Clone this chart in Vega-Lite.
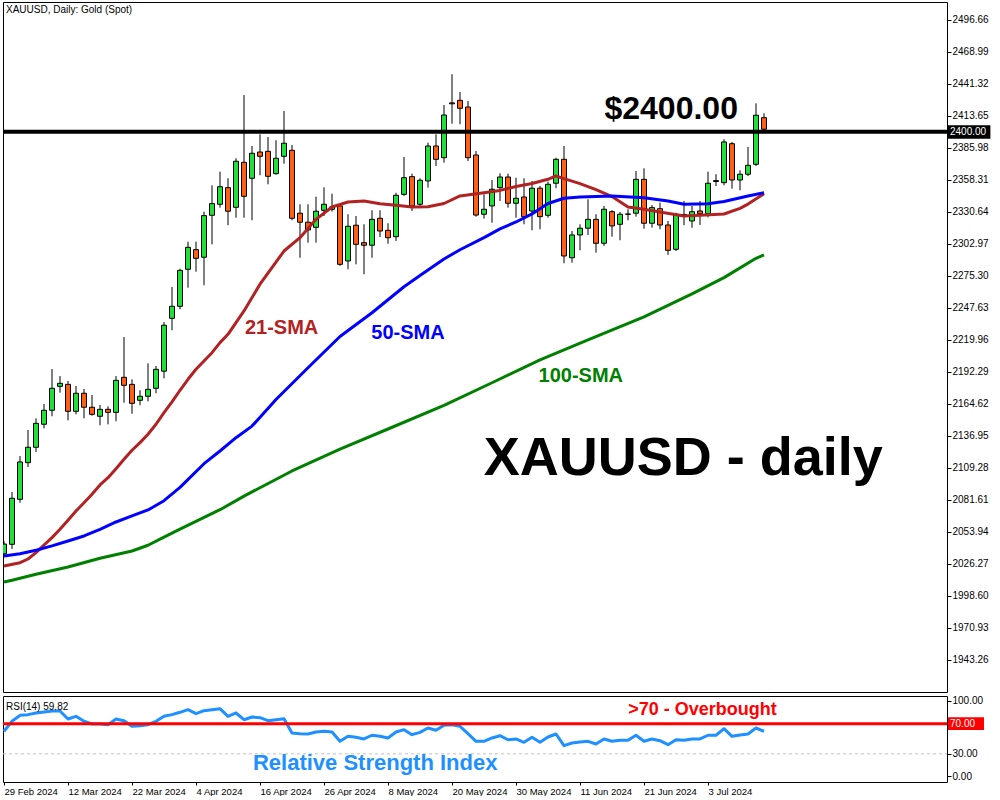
{
  "$schema": "https://vega.github.io/schema/vega-lite/v6.json",
  "background": "white",
  "padding": {"left": 2, "top": 1, "right": 0, "bottom": 0},
  "spacing": 2,
  "config": {
    "view": {"stroke": "black", "strokeWidth": 1},
    "axis": {"labelFont": "Liberation Sans", "labelFontSize": 10, "labelColor": "black", "tickColor": "black", "domain": false, "grid": false, "labelOverlap": false, "labelFlush": false, "labelSeparation": 0, "labelBound": false},
    "scale": {"continuousPadding": 0},
    "text": {"font": "Liberation Sans"}
  },
  "datasets": {
    "candles": [
      {"i":0,"o":2035,"h":2046,"l":2032,"c":2043.5,"r":59.9},
      {"i":1,"o":2043.3,"h":2088.5,"l":2039.2,"c":2083.1,"r":73.1},
      {"i":2,"o":2082.2,"h":2119.6,"l":2079.3,"c":2114.5,"r":81},
      {"i":3,"o":2113.9,"h":2142.1,"l":2110.1,"c":2127.2,"r":81.9},
      {"i":4,"o":2127.2,"h":2152.2,"l":2123.1,"c":2147.9,"r":84.1},
      {"i":5,"o":2147.1,"h":2164.6,"l":2143.6,"c":2159.2,"r":85.4},
      {"i":6,"o":2159.2,"h":2194.9,"l":2154.0,"c":2178.2,"r":86.8},
      {"i":7,"o":2179.9,"h":2188.8,"l":2174.4,"c":2182.5,"r":86.8},
      {"i":8,"o":2181.6,"h":2184.5,"l":2150.5,"c":2158.3,"r":76.2},
      {"i":9,"o":2158.3,"h":2180.2,"l":2155.7,"c":2173.9,"r":79.7},
      {"i":10,"o":2173.9,"h":2177.6,"l":2152.2,"c":2161.8,"r":73.1},
      {"i":11,"o":2161.8,"h":2172.4,"l":2154.5,"c":2155.7,"r":69.5},
      {"i":12,"o":2154.0,"h":2163.8,"l":2146.2,"c":2160.0,"r":69.5},
      {"i":13,"o":2160.0,"h":2162.6,"l":2147.0,"c":2157.4,"r":68.6},
      {"i":14,"o":2157.4,"h":2188.8,"l":2149.7,"c":2185.1,"r":76.2},
      {"i":15,"o":2187.7,"h":2222.6,"l":2165.7,"c":2180.8,"r":73.9},
      {"i":16,"o":2181.6,"h":2185.9,"l":2156.2,"c":2165.2,"r":66.5},
      {"i":17,"o":2167.8,"h":2176.5,"l":2163.5,"c":2171.3,"r":67.3},
      {"i":18,"o":2171.3,"h":2199.8,"l":2166.9,"c":2177.3,"r":68.6},
      {"i":19,"o":2178.2,"h":2197.5,"l":2173.9,"c":2194.6,"r":73.1},
      {"i":20,"o":2193.0,"h":2235.5,"l":2186.8,"c":2232.7,"r":79.7},
      {"i":21,"o":2238.7,"h":2265.8,"l":2228.4,"c":2249.1,"r":81.9},
      {"i":22,"o":2249.1,"h":2281.6,"l":2246.5,"c":2280.2,"r":85},
      {"i":23,"o":2281.1,"h":2305.0,"l":2265.2,"c":2300.1,"r":88.5},
      {"i":24,"o":2298.1,"h":2305.0,"l":2279.0,"c":2290.6,"r":83.2},
      {"i":25,"o":2291.5,"h":2330.9,"l":2267.3,"c":2327.5,"r":87.2},
      {"i":26,"o":2327.8,"h":2353.7,"l":2302.7,"c":2337.9,"r":88.5},
      {"i":27,"o":2337.3,"h":2365.5,"l":2334.4,"c":2352.5,"r":89.8},
      {"i":28,"o":2351.7,"h":2359.8,"l":2319.2,"c":2331.3,"r":79.7},
      {"i":29,"o":2334.7,"h":2377.1,"l":2325.7,"c":2374.5,"r":84.1},
      {"i":30,"o":2373.6,"h":2431.8,"l":2325.7,"c":2344.2,"r":75.2},
      {"i":31,"o":2359.8,"h":2387.7,"l":2323.5,"c":2381.4,"r":78.8},
      {"i":32,"o":2382.5,"h":2397.8,"l":2362.4,"c":2378.8,"r":77.9},
      {"i":33,"o":2383.1,"h":2395.5,"l":2354.6,"c":2361.5,"r":73.9},
      {"i":34,"o":2363.8,"h":2392.7,"l":2362.9,"c":2377.1,"r":75.2},
      {"i":35,"o":2378.8,"h":2418.0,"l":2372.4,"c":2390.1,"r":76.6},
      {"i":36,"o":2384.0,"h":2388.6,"l":2323.5,"c":2325.2,"r":57.6},
      {"i":37,"o":2329.6,"h":2337.3,"l":2291.1,"c":2321.8,"r":56.7},
      {"i":38,"o":2321.8,"h":2337.3,"l":2304.1,"c":2315.1,"r":56.3},
      {"i":39,"o":2317.4,"h":2343.9,"l":2304.1,"c":2331.3,"r":58.9},
      {"i":40,"o":2332.1,"h":2352.0,"l":2327.2,"c":2337.3,"r":59.9},
      {"i":41,"o":2333.0,"h":2346.5,"l":2331.0,"c":2335.0,"r":58.9},
      {"i":42,"o":2335.9,"h":2336.5,"l":2284.0,"c":2285.4,"r":46.6},
      {"i":43,"o":2288.3,"h":2328.7,"l":2281.1,"c":2318.3,"r":53.2},
      {"i":44,"o":2319.2,"h":2327.2,"l":2285.4,"c":2302.7,"r":51.9},
      {"i":45,"o":2304.1,"h":2320.0,"l":2276.8,"c":2301.9,"r":49.7},
      {"i":46,"o":2301.9,"h":2332.1,"l":2291.1,"c":2324.3,"r":54.6},
      {"i":47,"o":2325.2,"h":2332.1,"l":2309.0,"c":2314.2,"r":53.2},
      {"i":48,"o":2314.8,"h":2320.9,"l":2303.2,"c":2308.4,"r":51},
      {"i":49,"o":2309.3,"h":2347.3,"l":2305.6,"c":2345.1,"r":58.9},
      {"i":50,"o":2345.9,"h":2378.2,"l":2344.5,"c":2360.3,"r":62},
      {"i":51,"o":2361.2,"h":2363.8,"l":2331.5,"c":2335.9,"r":55.4},
      {"i":52,"o":2337.3,"h":2359.8,"l":2334.0,"c":2358.1,"r":58.5},
      {"i":53,"o":2357.5,"h":2390.6,"l":2351.7,"c":2387.7,"r":64.2},
      {"i":54,"o":2387.7,"h":2397.8,"l":2370.4,"c":2376.2,"r":61.2},
      {"i":55,"o":2377.6,"h":2423.2,"l":2373.3,"c":2414.5,"r":67.8},
      {"i":56,"o":2425.0,"h":2449.7,"l":2407.0,"c":2424.2,"r":68.6},
      {"i":57,"o":2427.2,"h":2434.4,"l":2406.5,"c":2420.3,"r":66.5},
      {"i":58,"o":2421.4,"h":2426.6,"l":2374.7,"c":2377.6,"r":56.7},
      {"i":59,"o":2379.9,"h":2383.4,"l":2326.6,"c":2328.0,"r":46.6},
      {"i":60,"o":2328.7,"h":2345.9,"l":2324.9,"c":2333.0,"r":46.6},
      {"i":61,"o":2335.9,"h":2358.3,"l":2321.4,"c":2350.3,"r":51},
      {"i":62,"o":2351.7,"h":2364.1,"l":2340.2,"c":2360.9,"r":54},
      {"i":63,"o":2360.9,"h":2363.8,"l":2334.4,"c":2338.2,"r":48.7},
      {"i":64,"o":2338.2,"h":2360.3,"l":2325.7,"c":2342.5,"r":49.7},
      {"i":65,"o":2343.6,"h":2359.8,"l":2320.0,"c":2326.6,"r":45.3},
      {"i":66,"o":2331.5,"h":2357.5,"l":2314.8,"c":2351.2,"r":51.9},
      {"i":67,"o":2351.2,"h":2353.1,"l":2315.7,"c":2326.6,"r":45.3},
      {"i":68,"o":2327.8,"h":2356.9,"l":2325.7,"c":2354.6,"r":52.3},
      {"i":69,"o":2355.5,"h":2377.6,"l":2351.2,"c":2376.2,"r":56.3},
      {"i":70,"o":2376.2,"h":2387.7,"l":2286.3,"c":2292.6,"r":40.8},
      {"i":71,"o":2291.1,"h":2314.2,"l":2286.8,"c":2310.8,"r":44.4},
      {"i":72,"o":2310.8,"h":2320.0,"l":2297.5,"c":2316.6,"r":45.7},
      {"i":73,"o":2316.6,"h":2341.6,"l":2310.8,"c":2324.3,"r":46.6},
      {"i":74,"o":2324.3,"h":2328.7,"l":2295.5,"c":2303.6,"r":43},
      {"i":75,"o":2303.6,"h":2335.9,"l":2301.3,"c":2333.0,"r":49.7},
      {"i":76,"o":2330.9,"h":2332.3,"l":2309.3,"c":2318.6,"r":46.6},
      {"i":77,"o":2320.0,"h":2330.6,"l":2306.2,"c":2328.7,"r":47.9},
      {"i":78,"o":2328.7,"h":2333.0,"l":2323.5,"c":2328.9,"r":47.9},
      {"i":79,"o":2329.6,"h":2366.1,"l":2326.6,"c":2358.9,"r":54.6},
      {"i":80,"o":2358.9,"h":2368.4,"l":2316.2,"c":2320.9,"r":46.6},
      {"i":81,"o":2320.9,"h":2336.7,"l":2317.1,"c":2334.4,"r":49.7},
      {"i":82,"o":2333.5,"h":2338.7,"l":2315.7,"c":2319.4,"r":47.4},
      {"i":83,"o":2319.4,"h":2322.9,"l":2293.5,"c":2297.5,"r":42.1},
      {"i":84,"o":2298.4,"h":2330.0,"l":2296.9,"c":2328.7,"r":48.7},
      {"i":85,"o":2328.5,"h":2340.2,"l":2319.2,"c":2327.8,"r":47.9},
      {"i":86,"o":2322.9,"h":2335.9,"l":2317.0,"c":2330.9,"r":49.7},
      {"i":87,"o":2331.5,"h":2340.2,"l":2319.4,"c":2329.2,"r":49.7},
      {"i":88,"o":2329.2,"h":2365.5,"l":2326.0,"c":2355.5,"r":54.6},
      {"i":89,"o":2357.0,"h":2363.3,"l":2353.1,"c":2357.8,"r":54.6},
      {"i":90,"o":2356.0,"h":2393.5,"l":2353.7,"c":2391.2,"r":63.3},
      {"i":91,"o":2389.7,"h":2391.2,"l":2350.8,"c":2358.3,"r":53.2},
      {"i":92,"o":2358.3,"h":2366.7,"l":2349.4,"c":2363.3,"r":55},
      {"i":93,"o":2363.3,"h":2386.9,"l":2361.7,"c":2371.0,"r":56.3},
      {"i":94,"o":2371.9,"h":2424.6,"l":2370.4,"c":2414.3,"r":64.2},
      {"i":95,"o":2412.2,"h":2416.0,"l":2401.3,"c":2402.2,"r":59.9}
    ],
    "sma": [
      {"s":"21","i":0,"v":2024.6},{"s":"21","i":2,"v":2027.4},{"s":"21","i":3,"v":2030.6},{"s":"21","i":4,"v":2036.1},{"s":"21","i":5,"v":2042.7},{"s":"21","i":6,"v":2049.1},{"s":"21","i":7,"v":2056.3},{"s":"21","i":8,"v":2064.1},{"s":"21","i":9,"v":2072.1},{"s":"21","i":10,"v":2079.3},{"s":"21","i":11,"v":2086.6},{"s":"21","i":12,"v":2094.6},{"s":"21","i":13,"v":2100.9},{"s":"21","i":14,"v":2108.7},{"s":"21","i":15,"v":2116.8},{"s":"21","i":16,"v":2124.6},{"s":"21","i":17,"v":2131.2},{"s":"21","i":18,"v":2138.5},{"s":"21","i":19,"v":2147.1},{"s":"21","i":20,"v":2157.1},{"s":"21","i":21,"v":2166.4},{"s":"21","i":22,"v":2176.5},{"s":"21","i":23,"v":2186.0},{"s":"21","i":24,"v":2194.7},{"s":"21","i":25,"v":2201.8},{"s":"21","i":26,"v":2209.0},{"s":"21","i":27,"v":2217.7},{"s":"21","i":28,"v":2224.9},{"s":"21","i":30,"v":2245.1},{"s":"21","i":32,"v":2268.2},{"s":"21","i":35,"v":2296.9},{"s":"21","i":37,"v":2308.4},{"s":"21","i":39,"v":2324.3},{"s":"21","i":41,"v":2335.0},{"s":"21","i":43,"v":2339.3},{"s":"21","i":45,"v":2340.2},{"s":"21","i":47,"v":2337.8},{"s":"21","i":49,"v":2336.4},{"s":"21","i":51,"v":2335.0},{"s":"21","i":53,"v":2335.2},{"s":"21","i":55,"v":2338.0},{"s":"21","i":57,"v":2344.5},{"s":"21","i":60,"v":2347.2},{"s":"21","i":62,"v":2349.3},{"s":"21","i":64,"v":2352.7},{"s":"21","i":66,"v":2355.3},{"s":"21","i":68,"v":2358.9},{"s":"21","i":69,"v":2361.8},{"s":"21","i":70,"v":2359.5},{"s":"21","i":72,"v":2355.2},{"s":"21","i":74,"v":2350.0},{"s":"21","i":76,"v":2344.0},{"s":"21","i":78,"v":2335.0},{"s":"21","i":80,"v":2333.0},{"s":"21","i":82,"v":2330.7},{"s":"21","i":85,"v":2327.2},{"s":"21","i":87,"v":2327.8},{"s":"21","i":90,"v":2328.9},{"s":"21","i":92,"v":2333.8},{"s":"21","i":93,"v":2337.5},{"s":"21","i":95,"v":2346.5},
      {"s":"50","i":0,"v":2033.2},{"s":"50","i":2,"v":2035.2},{"s":"50","i":4,"v":2038.1},{"s":"50","i":6,"v":2041.9},{"s":"50","i":8,"v":2046.2},{"s":"50","i":10,"v":2050.5},{"s":"50","i":12,"v":2056.3},{"s":"50","i":14,"v":2062.6},{"s":"50","i":16,"v":2067.8},{"s":"50","i":18,"v":2073.0},{"s":"50","i":20,"v":2081.0},{"s":"50","i":22,"v":2092.5},{"s":"50","i":25,"v":2113.0},{"s":"50","i":27,"v":2124.0},{"s":"50","i":29,"v":2135.5},{"s":"50","i":31,"v":2145.5},{"s":"50","i":34,"v":2168.5},{"s":"50","i":38,"v":2196.0},{"s":"50","i":42,"v":2223.0},{"s":"50","i":46,"v":2243.5},{"s":"50","i":50,"v":2266.0},{"s":"50","i":52,"v":2275.7},{"s":"50","i":55,"v":2290.0},{"s":"50","i":57,"v":2298.0},{"s":"50","i":60,"v":2308.5},{"s":"50","i":62,"v":2316.0},{"s":"50","i":64,"v":2322.0},{"s":"50","i":66,"v":2329.0},{"s":"50","i":68,"v":2338.0},{"s":"50","i":70,"v":2342.5},{"s":"50","i":72,"v":2343.6},{"s":"50","i":76,"v":2344.5},{"s":"50","i":80,"v":2343.0},{"s":"50","i":83,"v":2340.2},{"s":"50","i":85,"v":2337.3},{"s":"50","i":88,"v":2337.8},{"s":"50","i":90,"v":2339.7},{"s":"50","i":93,"v":2344.5},{"s":"50","i":95,"v":2347.3},
      {"s":"100","i":0,"v":2010.7},{"s":"100","i":1,"v":2012.2},{"s":"100","i":4,"v":2017.4},{"s":"100","i":8,"v":2023.7},{"s":"100","i":12,"v":2031.2},{"s":"100","i":16,"v":2037.5},{"s":"100","i":18,"v":2042.5},{"s":"100","i":20,"v":2049.5},{"s":"100","i":22,"v":2056.5},{"s":"100","i":27,"v":2073.2},{"s":"100","i":30,"v":2085.0},{"s":"100","i":36,"v":2106.7},{"s":"100","i":42,"v":2125.5},{"s":"100","i":48,"v":2143.0},{"s":"100","i":55,"v":2163.5},{"s":"100","i":61,"v":2183.0},{"s":"100","i":67,"v":2202.8},{"s":"100","i":73,"v":2220.0},{"s":"100","i":80,"v":2240.0},{"s":"100","i":86,"v":2259.8},{"s":"100","i":90,"v":2273.9},{"s":"100","i":94,"v":2290.6},{"s":"100","i":95,"v":2293.5}
    ]
  },
  "vconcat": [
    {
      "width": 944,
      "height": 690,
      "encoding": {
        "x": {"field": "i", "type": "quantitative", "scale": {"domain": [-0.125, 117.875], "nice": false, "zero": false, "padding": 0}, "axis": null}
      },
      "layer": [
        {
          "data": {"name": "candles"},
          "mark": {"type": "rule", "color": "black", "strokeWidth": 1, "clip": true},
          "encoding": {
            "y": {"field": "l", "type": "quantitative", "scale": {"domain": [1915.59, 2512.22], "nice": false, "zero": false, "padding": 0},
                  "axis": {"orient": "right", "title": null, "values": [2496.66, 2468.99, 2441.32, 2413.65, 2385.98, 2358.31, 2330.64, 2302.97, 2275.30, 2247.63, 2219.96, 2192.29, 2164.62, 2136.95, 2109.28, 2081.61, 2053.94, 2026.27, 1998.60, 1970.93, 1943.26], "tickCount": 40, "format": ".2f", "tickSize": 4, "labelPadding": 1, "labelOverlap": false, "labelFlush": false}},
            "y2": {"field": "h"}
          }
        },
        {
          "data": {"name": "candles"},
          "mark": {"type": "bar", "size": 5, "stroke": "black", "strokeWidth": 1, "clip": true},
          "encoding": {
            "y": {"field": "o", "type": "quantitative"},
            "y2": {"field": "c"},
            "fill": {"condition": {"test": "datum.c >= datum.o", "value": "#22E03C"}, "value": "#FF5F15"}
          }
        },
        {
          "data": {"name": "sma"},
          "mark": {"type": "line", "strokeWidth": 3, "clip": true, "strokeJoin": "round"},
          "encoding": {
            "y": {"field": "v", "type": "quantitative"},
            "color": {"field": "s", "type": "nominal", "scale": {"domain": ["21", "50", "100"], "range": ["#B22222", "#0000FF", "#008000"]}, "legend": null},
            "detail": {"field": "s"}
          }
        },
        {
          "data": {"name": "candles"},
          "transform": [{"filter": "datum.i == 0"}],
          "mark": {"type": "rule", "color": "black", "strokeWidth": 4, "clip": true},
          "encoding": {"x": {"datum": -0.125}, "x2": {"datum": 117.875}, "y": {"datum": 2400, "type": "quantitative"}}
        },
        {
          "data": {"name": "candles"},
          "transform": [{"filter": "datum.i == 0"}],
          "mark": {"type": "rect", "color": "black", "clip": false},
          "encoding": {
            "x": {"datum": 118.0}, "x2": {"datum": 123.3},
            "y": {"datum": 2394.0, "type": "quantitative"}, "y2": {"datum": 2405.6}
          }
        },
        {
          "data": {"name": "candles"},
          "transform": [{"filter": "datum.i == 0"}],
          "mark": {"type": "text", "text": "2400.00", "color": "white", "fontSize": 10, "align": "left", "baseline": "middle", "clip": false},
          "encoding": {"x": {"datum": 118.25}, "y": {"datum": 2400, "type": "quantitative"}}
        },
        {
          "data": {"name": "candles"},
          "transform": [{"filter": "datum.i == 0"}],
          "mark": {"type": "text", "text": "XAUUSD, Daily:  Gold (Spot)", "color": "black", "fontSize": 10, "align": "left", "baseline": "middle"},
          "encoding": {"x": {"datum": 0.25}, "y": {"datum": 2505.3, "type": "quantitative"}}
        },
        {
          "data": {"name": "candles"},
          "transform": [{"filter": "datum.i == 0"}],
          "mark": {"type": "text", "text": "$2400.00", "color": "black", "fontSize": 32, "fontWeight": "bold", "align": "center", "baseline": "alphabetic"},
          "encoding": {"x": {"datum": 83.4}, "y": {"datum": 2411.1, "type": "quantitative"}}
        },
        {
          "data": {"name": "candles"},
          "transform": [{"filter": "datum.i == 0"}],
          "mark": {"type": "text", "text": "XAUUSD - daily", "color": "black", "fontSize": 54, "fontWeight": "bold", "align": "center", "baseline": "alphabetic"},
          "encoding": {"x": {"datum": 84.9}, "y": {"datum": 2103.2, "type": "quantitative"}}
        },
        {
          "data": {"name": "candles"},
          "transform": [{"filter": "datum.i == 0"}],
          "mark": {"type": "text", "text": "21-SMA", "color": "#B22222", "fontSize": 20, "fontWeight": "bold", "align": "center", "baseline": "alphabetic"},
          "encoding": {"x": {"datum": 34.7}, "y": {"datum": 2225.4, "type": "quantitative"}}
        },
        {
          "data": {"name": "candles"},
          "transform": [{"filter": "datum.i == 0"}],
          "mark": {"type": "text", "text": "50-SMA", "color": "#0000FF", "fontSize": 20, "fontWeight": "bold", "align": "center", "baseline": "alphabetic"},
          "encoding": {"x": {"datum": 50.5}, "y": {"datum": 2221.1, "type": "quantitative"}}
        },
        {
          "data": {"name": "candles"},
          "transform": [{"filter": "datum.i == 0"}],
          "mark": {"type": "text", "text": "100-SMA", "color": "#008000", "fontSize": 20, "fontWeight": "bold", "align": "center", "baseline": "alphabetic"},
          "encoding": {"x": {"datum": 72.1}, "y": {"datum": 2183.6, "type": "quantitative"}}
        }
      ]
    },
    {
      "width": 944,
      "height": 86,
      "encoding": {
        "x": {"field": "i", "type": "quantitative", "scale": {"domain": [-0.125, 117.875], "nice": false, "zero": false, "padding": 0},
              "axis": {"orient": "bottom", "title": null, "values": [0, 8, 16, 24, 32, 40, 48, 56, 64, 72, 80, 88], "tickCount": 40, "labelExpr": "datum.value == 0 ? '29 Feb 2024' : datum.value == 8 ? '12 Mar 2024' : datum.value == 16 ? '22 Mar 2024' : datum.value == 24 ? '4 Apr 2024' : datum.value == 32 ? '16 Apr 2024' : datum.value == 40 ? '26 Apr 2024' : datum.value == 48 ? '8 May 2024' : datum.value == 56 ? '20 May 2024' : datum.value == 64 ? '30 May 2024' : datum.value == 72 ? '11 Jun 2024' : datum.value == 80 ? '21 Jun 2024' : '3 Jul 2024'", "labelAlign": "left", "labelBaseline": "top", "labelPadding": 1, "labelFontSize": 9.5, "tickSize": 3, "labelFlush": false, "labelOverlap": false}}
      },
      "layer": [
        {
          "data": {"name": "candles"},
          "mark": {"type": "line", "color": "#1E90FF", "strokeWidth": 3, "clip": true, "strokeJoin": "round"},
          "encoding": {
            "y": {"field": "r", "type": "quantitative", "scale": {"domain": [-7.3, 106.6], "nice": false, "zero": false, "padding": 0},
                  "axis": {"orient": "right", "title": null, "values": [0, 30, 100], "tickCount": 10, "format": ".2f", "tickSize": 4, "labelPadding": 1, "labelOverlap": false, "labelFlush": false}}
          }
        },
        {
          "data": {"name": "candles"},
          "transform": [{"filter": "datum.i == 0"}],
          "mark": {"type": "rule", "color": "#C0C0C0", "strokeWidth": 1, "strokeDash": [3, 3], "clip": true},
          "encoding": {"x": {"datum": -0.125}, "x2": {"datum": 117.875}, "y": {"datum": 30, "type": "quantitative"}}
        },
        {
          "data": {"name": "candles"},
          "transform": [{"filter": "datum.i == 0"}],
          "mark": {"type": "rule", "color": "#FF0000", "strokeWidth": 3, "clip": true},
          "encoding": {"x": {"datum": -0.125}, "x2": {"datum": 117.875}, "y": {"datum": 70, "type": "quantitative"}}
        },
        {
          "data": {"name": "candles"},
          "transform": [{"filter": "datum.i == 0"}],
          "mark": {"type": "rect", "color": "#FF0000", "clip": false},
          "encoding": {
            "x": {"datum": 118.0}, "x2": {"datum": 122.5},
            "y": {"datum": 61.5, "type": "quantitative"}, "y2": {"datum": 78.5}
          }
        },
        {
          "data": {"name": "candles"},
          "transform": [{"filter": "datum.i == 0"}],
          "mark": {"type": "text", "text": "70.00", "color": "white", "fontSize": 10, "align": "left", "baseline": "middle", "clip": false},
          "encoding": {"x": {"datum": 118.25}, "y": {"datum": 70, "type": "quantitative"}}
        },
        {
          "data": {"name": "candles"},
          "transform": [{"filter": "datum.i == 0"}],
          "mark": {"type": "text", "text": "RSI(14) 59.82", "color": "black", "fontSize": 10, "align": "left", "baseline": "alphabetic"},
          "encoding": {"x": {"datum": 0.25}, "y": {"datum": 88.1, "type": "quantitative"}}
        },
        {
          "data": {"name": "candles"},
          "transform": [{"filter": "datum.i == 0"}],
          "mark": {"type": "text", "text": ">70 - Overbought", "color": "#FF0000", "fontSize": 18, "fontWeight": "bold", "align": "center", "baseline": "alphabetic"},
          "encoding": {"x": {"datum": 87.3}, "y": {"datum": 81, "type": "quantitative"}}
        },
        {
          "data": {"name": "candles"},
          "transform": [{"filter": "datum.i == 0"}],
          "mark": {"type": "text", "text": "Relative Strength Index", "color": "#1E90FF", "fontSize": 22, "fontWeight": "bold", "align": "center", "baseline": "alphabetic"},
          "encoding": {"x": {"datum": 46.4}, "y": {"datum": 8.2, "type": "quantitative"}}
        }
      ]
    }
  ]
}
